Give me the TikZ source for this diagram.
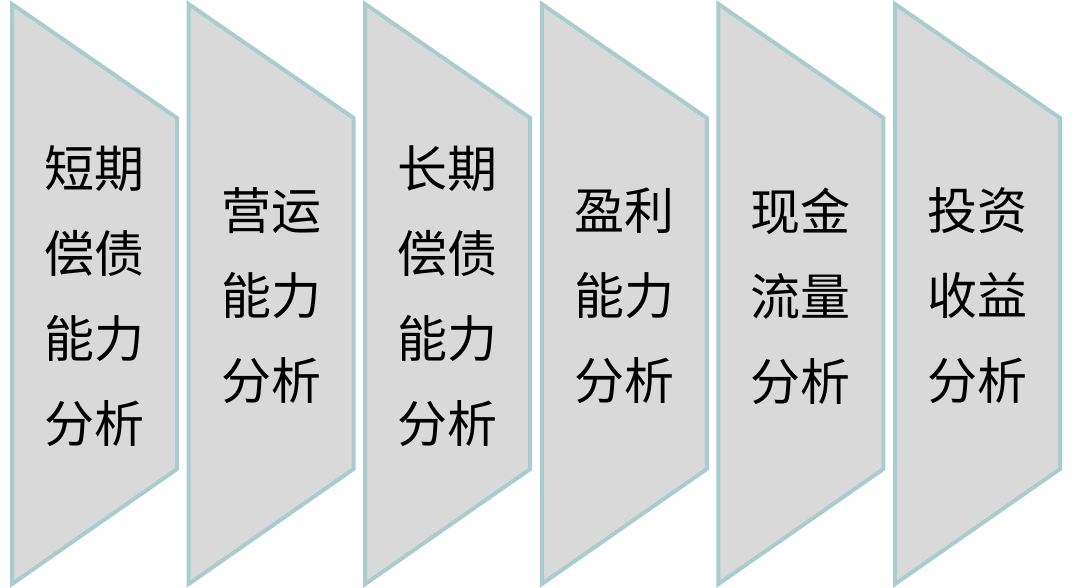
\documentclass[tikz,border=0pt]{standalone}
\usepackage{fontspec}
\newfontfamily\cjk{Noto Sans CJK SC}
\definecolor{edge}{HTML}{A9CDCF}
\definecolor{panel}{HTML}{D9D9D9}
\tikzset{
  chevron/.style={draw=edge, fill=panel, line width=4pt, line join=miter},
  label/.style={font=\cjk\fontsize{50}{85}\selectfont, align=center, text=black, inner sep=0pt}
}
\begin{document}
\begin{tikzpicture}[x=1pt,y=-1pt]
\useasboundingbox (0,0) rectangle (1072,587);
\foreach \i/\txt [count=\n] in {
  0/{短期\\偿债\\能力\\分析},
  1/{营运\\能力\\分析},
  2/{长期\\偿债\\能力\\分析},
  3/{盈利\\能力\\分析},
  4/{现金\\流量\\分析},
  5/{投资\\收益\\分析}}{
  \pgfmathsetmacro{\xl}{12+176.6*\i}
  \pgfmathsetmacro{\xr}{\xl+165}
  \draw[chevron] (\xl,4) -- (\xr,118) -- (\xr,469) -- (\xl,584) -- cycle;
  \node[label] (t\n) at ({(\xl+\xr)/2},296) {\txt};
}
\end{tikzpicture}
\end{document}
